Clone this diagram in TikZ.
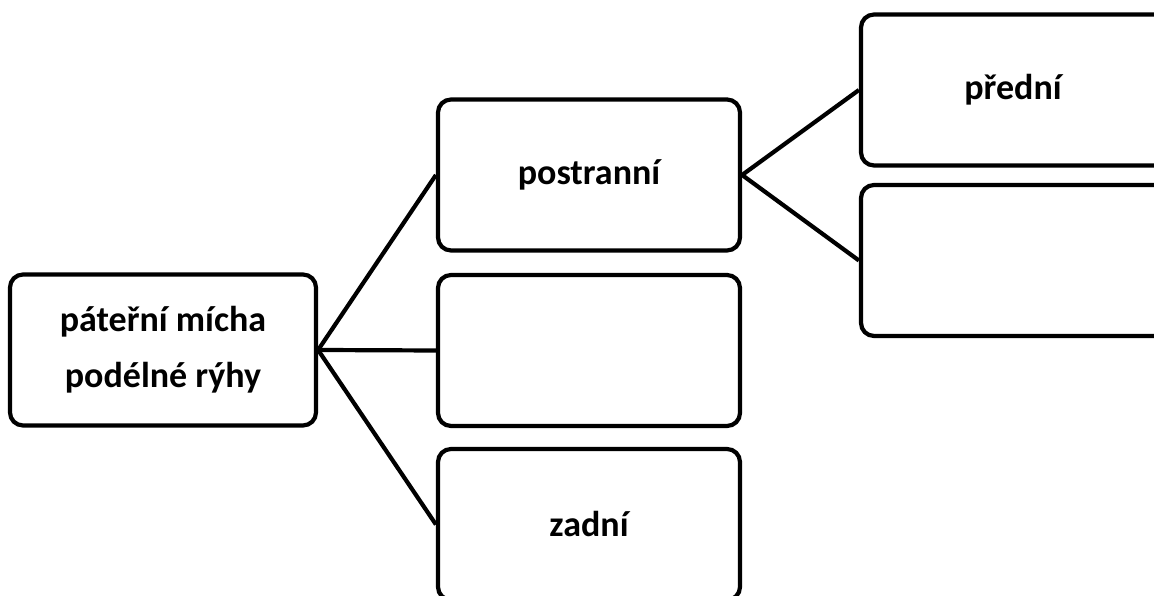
\documentclass[tikz,border=0pt]{standalone}
\usepackage{fontspec}
\setmainfont{Carlito}
\begin{document}
\begin{tikzpicture}[x=1pt,y=1pt,
  box/.style={draw=black, line width=4.2pt, rounded corners=13pt, fill=white,
    minimum width=304pt, minimum height=151pt, inner sep=0pt, align=center,
    font=\fontsize{36pt}{56pt}\selectfont\bfseries},
  conn/.style={draw=black, line width=4.2pt}]
\useasboundingbox (0,0) rectangle (1154,596);
\clip (0,0) rectangle (1154,596);
\node[box, minimum width=306pt] (root) at (163,246) {páteřní mícha\\podélné rýhy};
\node[box, minimum width=302pt] (post) at (589,421) {postranní};
\node[box, minimum width=302pt] (mid) at (589,245.5) {};
\node[box, minimum width=302pt] (zad) at (589,71.5) {zadní};
\node[box, minimum width=330pt, text width=304pt] (pred) at (1026,506) {\hspace*{-26pt}přední};
\node[box, minimum width=330pt] (rlow) at (1026,335.5) {};
\draw[conn] (root.east) -- (post.west);
\draw[conn] (root.east) -- (mid.west);
\draw[conn] (root.east) -- (zad.west);
\draw[conn] (post.east) -- (pred.west);
\draw[conn] (post.east) -- (rlow.west);
\end{tikzpicture}
\end{document}
